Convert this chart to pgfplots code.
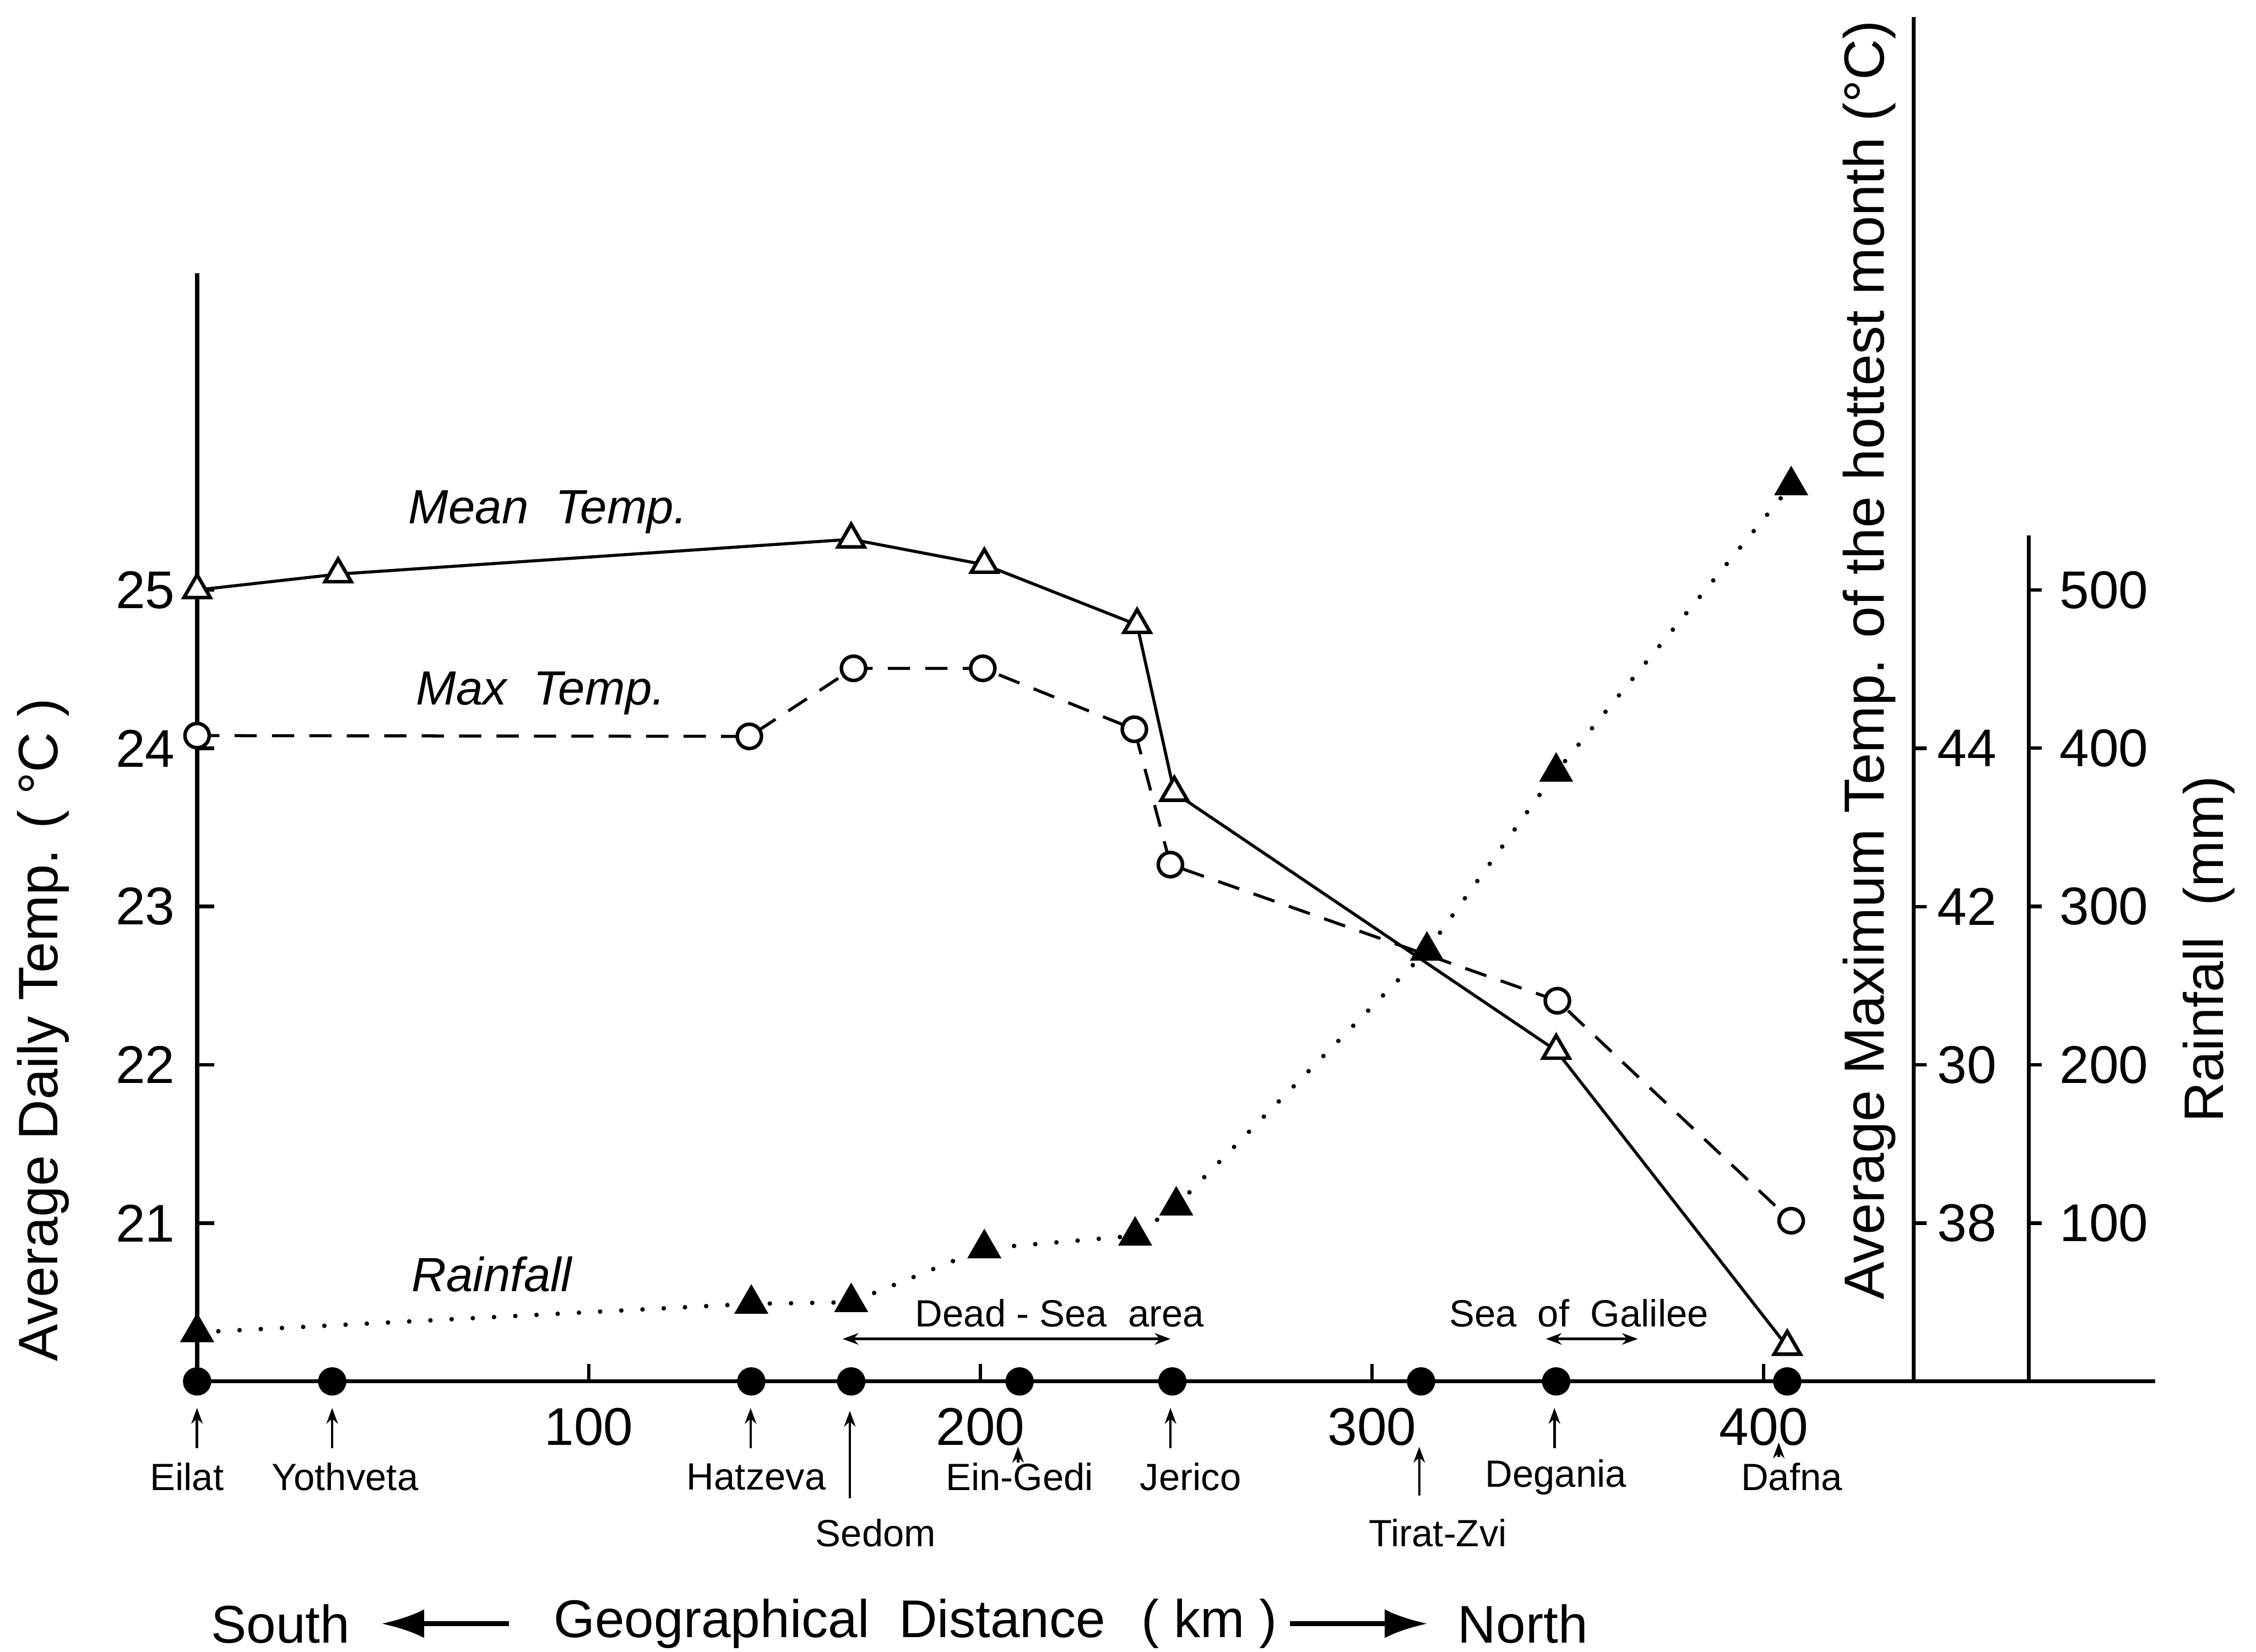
\documentclass[border=0pt]{standalone}
\usepackage{fontspec}
\setmainfont{Liberation Sans}
\usepackage{pgfplots}
\usepackage{pgfplotstable}
\pgfplotsset{compat=1.18}
\usetikzlibrary{arrows.meta}

% distance (km) and average daily temperature (left axis)
\pgfplotstableread{
km T
0 25.0
36 25.1
167 25.32
201 25.16
240 24.78
249.5 23.72
347 22.09
406 20.22
}\meantemp

% average maximum temperature of the hottest month (right axis)
\pgfplotstableread{
km T
0 44.16
141 44.15
167.6 45.01
200.6 45.01
239.3 44.24
248.5 42.53
347.3 40.81
407 38.03
}\maxtemp

% rainfall (mm)
\pgfplotstableread{
km R
0 31
141.5 49
167 50
201 84
239.5 92
250 111
314 272
347 385
407 566
}\rain

% stations along the profile
\pgfplotstableread{
km y
0 20
34.5 20
141.5 20
167 20
210 20
249 20
312.5 20
347 20
406 20
}\stations

\begin{document}
\begin{tikzpicture}
\path[use as bounding box] (0,0) rectangle (15.68cm,11.48cm);

% ---------- left axis: average daily temperature ----------
\begin{axis}[
  at={(1.37cm,1.88cm)}, anchor=south west,
  x=0.02722cm, y=1.1cm,
  xmin=0, xmax=500, ymin=20, ymax=27,
  enlargelimits=false,
  axis x line=bottom, axis y line=left,
  axis line style={-, line width=0.8pt, black},
  xtick={100,200,300,400}, ytick={21,22,23,24,25},
  tick align=inside, major tick length=0.12cm,
  tick style={line width=0.7pt, black},
  /pgf/number format/assume math mode=true,
  ticklabel style={font=\fontsize{10.5}{12}\selectfont},
  xticklabel style={yshift=-0.06cm},
  yticklabel style={xshift=-0.03cm},
  clip=false,
]
\addplot[black, line width=0.6pt, mark=triangle*, mark size=3pt,
  mark options={fill=white, solid, line width=0.7pt}] table[x=km, y=T] {\meantemp};
\addplot[only marks, mark=*, mark size=2.6pt, black] table[x=km, y=y] {\stations};
\end{axis}

% ---------- first right axis: average maximum temperature ----------
\begin{axis}[
  at={(1.37cm,1.88cm)}, anchor=south west,
  x=0.02722cm, y=0.55cm,
  xmin=0, xmax=438.3, ymin=36, ymax=53.24,
  enlargelimits=false,
  axis x line=none, axis y line=right,
  axis line style={-, line width=0.8pt, black},
  xtick=\empty,
  ytick={38,40,42,44}, yticklabels={38,30,42,44},
  tick align=outside, major tick length=0.09cm,
  tick style={line width=0.7pt, black},
  ticklabel style={font=\fontsize{10.5}{12}\selectfont},
  yticklabel style={xshift=-0.05cm},
  clip=false,
]
\addplot[black, line width=0.6pt, dash pattern=on 4.4pt off 3pt, mark=*, mark size=2.4pt,
  mark options={fill=white, solid, line width=0.7pt}] table[x=km, y=T] {\maxtemp};
\end{axis}

% ---------- second right axis: rainfall ----------
\begin{axis}[
  at={(1.37cm,1.88cm)}, anchor=south west,
  x=0.02722cm, y=0.011cm,
  xmin=0, xmax=467.7, ymin=0, ymax=534.5,
  enlargelimits=false,
  axis x line=none, axis y line=right,
  axis line style={-, line width=0.8pt, black},
  xtick=\empty,
  ytick={100,200,300,400,500},
  tick align=outside, major tick length=0.09cm,
  tick style={line width=0.7pt, black},
  /pgf/number format/assume math mode=true,
  ticklabel style={font=\fontsize{10.5}{12}\selectfont},
  clip=false,
]
\addplot[black, line width=0.9pt, line cap=round, dash pattern=on 0pt off 4.2pt,
  mark=triangle*, mark size=3pt, mark options={fill=black, solid}] table[x=km, y=R] {\rain};
\end{axis}

% ---------- annotations (coordinates in picture units) ----------
\begin{scope}[x=0.01cm, y=-0.01cm, yshift=11.48cm]
  \tikzset{sarrow/.style={-{Stealth[length=0.11cm,width=0.08cm]}, line width=0.5pt}}
  \tikzset{small/.style={font=\fontsize{7.5}{9}\selectfont}}
  % station arrows and names
  \draw[sarrow] (137,1007) -- (137,979);
  \draw[sarrow] (231,1007) -- (231,979);
  \draw[sarrow] (522,1007) -- (522,979);
  \draw[sarrow] (591,1042) -- (591,981);
  \draw[sarrow] (708,1017) -- (708,1006);
  \draw[sarrow] (814,1007) -- (814,979);
  \draw[sarrow] (987,1040) -- (987,1006);
  \draw[sarrow] (1081,1007) -- (1081,979);
  \draw[sarrow] (1237,1013) -- (1237,1003);
  \node[small] at (130,1027) {Eilat};
  \node[small] at (240,1027) {Yothveta};
  \node[small] at (526,1027) {Hatzeva};
  \node[small] at (609,1066) {Sedom};
  \node[small] at (709,1027) {Ein-Gedi};
  \node[small] at (828,1027) {Jerico};
  \node[small] at (1000,1066) {Tirat-Zvi};
  \node[small] at (1082,1027) {Degania};
  \node[small] at (1246,1027) {Dafna};
  % regions
  \node[small] at (737,913) {Dead - Sea\ \ area};
  \draw[{Stealth[length=0.11cm,width=0.08cm]}-{Stealth[length=0.11cm,width=0.08cm]}, line width=0.6pt] (586,931) -- (814,931);
  \node[small] at (1098,913) {Sea\ \ of\ \ Galilee};
  \draw[{Stealth[length=0.11cm,width=0.08cm]}-{Stealth[length=0.11cm,width=0.08cm]}, line width=0.6pt] (1075,931) -- (1139,931);
  % series names
  \node[font=\itshape\fontsize{9.5}{11}\selectfont] at (381,356) {Mean\ \ Temp.};
  \node[font=\itshape\fontsize{9.5}{11}\selectfont] at (376,482) {Max\ \ Temp.};
  \node[font=\itshape\fontsize{9.5}{11}\selectfont] at (342,886) {Rainfall};
  % axis titles
  \node[rotate=90, font=\fontsize{11}{13}\selectfont] at (30,716) {Average Daily Temp. ( °C )};
  \node[rotate=90, font=\fontsize{11.2}{13}\selectfont] at (1300,459) {Average Maximum Temp. of the hottest month (°C)};
  \node[rotate=90, font=\fontsize{11}{13}\selectfont] at (1536,660) {Rainfall\ \ (mm)};
  % bottom title
  \node[font=\fontsize{10.5}{12}\selectfont] at (195,1129) {South};
  \draw[-{Latex[length=0.3cm,width=0.2cm]}, line width=1pt] (354,1129) -- (265,1129);
  \node[font=\fontsize{10.5}{12}\selectfont] at (577,1129) {Geographical\ \ Distance};
  \node[font=\fontsize{10.5}{12}\selectfont] at (841,1129) {( km )};
  \draw[-{Latex[length=0.3cm,width=0.2cm]}, line width=1pt] (897,1129) -- (993,1129);
  \node[font=\fontsize{10.5}{12}\selectfont] at (1059,1129) {North};
\end{scope}
\end{tikzpicture}
\end{document}
